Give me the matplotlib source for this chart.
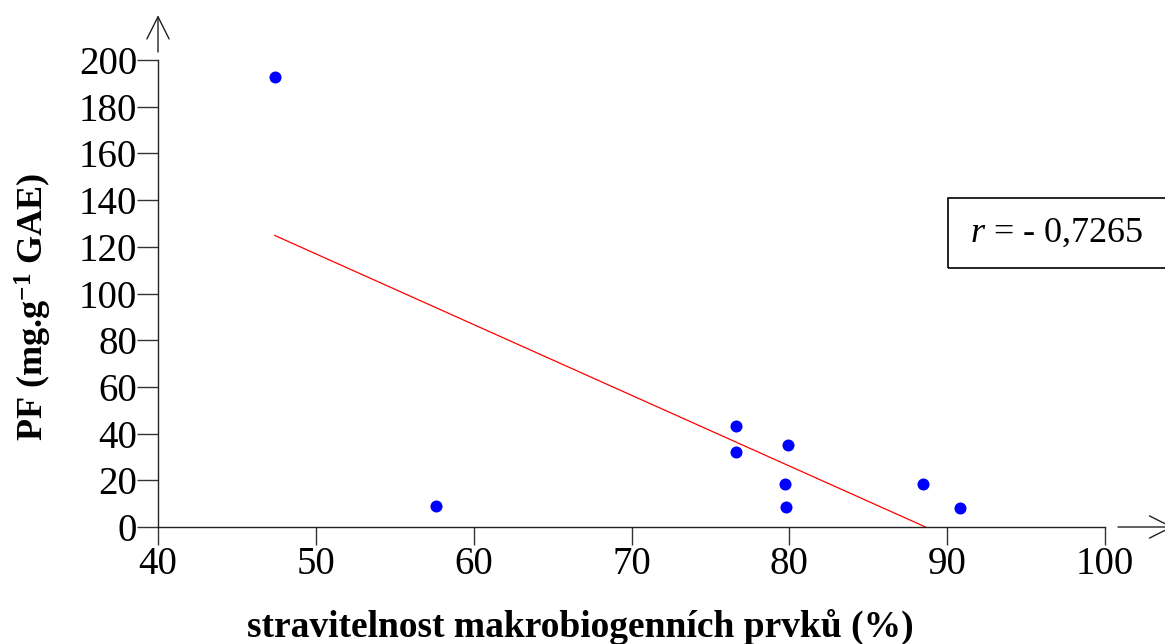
import numpy as np
import matplotlib
matplotlib.use("Agg")
import matplotlib.pyplot as plt
from matplotlib.patches import Rectangle

# Data
x_vals = [47.4, 57.6, 76.6, 76.6, 79.9, 79.7, 79.8, 88.5, 90.8]
y_vals = [192.7, 9.0, 43.3, 32.1, 35.1, 18.4, 8.6, 18.4, 8.1]
x_ticks = [40, 50, 60, 70, 80, 90, 100]
y_ticks = [0, 20, 40, 60, 80, 100, 120, 140, 160, 180, 200]
r_label = "- 0,7265"
x_label = "stravitelnost makrobiogenních prvků (%)"
y_label = "PF (mg.g$^{\\mathbf{-1}}$ GAE)"

plt.rcParams['font.family'] = ['Liberation Serif', 'DejaVu Serif']
plt.rcParams['mathtext.fontset'] = 'custom'
plt.rcParams['mathtext.rm'] = 'Liberation Serif'
plt.rcParams['mathtext.it'] = 'Liberation Serif:italic'
plt.rcParams['mathtext.bf'] = 'Liberation Serif:bold'

W, H = 1165, 644
fig = plt.figure(figsize=(W / 100, H / 100), dpi=100)
ax = fig.add_axes([158 / W, 1 - 527 / H, (1105 - 158) / W, (527 - 60) / H])

x = np.array(x_vals)
y = np.array(y_vals)
ax.scatter(x, y, s=75, color='#0000ff', zorder=3, linewidths=0)

# regression line from min x to where it reaches zero
slope, intercept = np.polyfit(x, y, 1)
x0 = x.min()
x1 = -intercept / slope
ax.plot([x0, x1], [slope * x0 + intercept, slope * x1 + intercept],
        color='red', lw=0.9, zorder=2)

ax.set_xlim(40, 100)
ax.set_ylim(0, 200)
ax.set_xticks(x_ticks)
ax.set_yticks(y_ticks)
ax.tick_params(axis='both', labelsize=28, direction='out', width=1.0,
               color='#333333')
ax.tick_params(axis='y', length=15, pad=0)
ax.tick_params(axis='x', length=13, pad=1)
for s in ['top', 'right']:
    ax.spines[s].set_visible(False)
for s in ['left', 'bottom']:
    ax.spines[s].set_linewidth(1.0)
    ax.spines[s].set_color('#222222')
ax.patch.set_visible(False)

# arrows
ax.annotate('', xy=(0, 1.096), xytext=(0, 1.017), xycoords='axes fraction',
            textcoords='axes fraction', annotation_clip=False,
            arrowprops=dict(arrowstyle='->', lw=1.0, color='#222222',
                            mutation_scale=40, shrinkA=0, shrinkB=0))
ax.annotate('', xy=(1.072, 0), xytext=(1.0137, 0), xycoords='axes fraction',
            textcoords='axes fraction', annotation_clip=False,
            arrowprops=dict(arrowstyle='->', lw=1.0, color='#222222',
                            mutation_scale=40, shrinkA=0, shrinkB=0))

fig.text(580 / W, 1 - 627 / H, x_label, ha='center', va='center',
         fontsize=27, fontweight='bold')
fig.text(33 / W, 1 - 307 / H, y_label, ha='center', va='center',
         rotation=90, fontsize=26, fontweight='bold')

# correlation box
fig.patches.append(Rectangle((948 / W, 1 - 268 / H), 300 / W, 70 / H,
                             transform=fig.transFigure, fill=False,
                             edgecolor='black', lw=1.2))
fig.text(970 / W, 1 - 233 / H, "$r$ = " + r_label, ha='left', va='center',
         fontsize=26)

fig.savefig('out.png', dpi=100)
